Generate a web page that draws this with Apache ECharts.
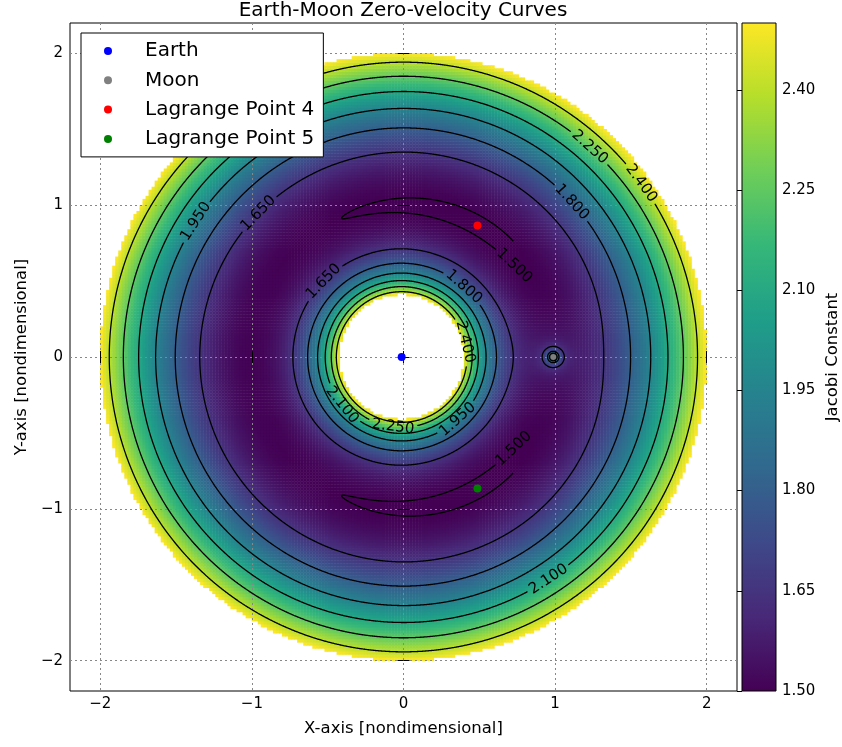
<!DOCTYPE html>
<html>
<head>
<meta charset="utf-8">
<script src="https://cdn.jsdelivr.net/npm/echarts@6/dist/echarts.min.js"></script>
<style>html,body{margin:0;padding:0;background:#fff}#c{width:842px;height:747px}</style>
</head>
<body>
<div id="c"></div>
<script>
// ---------------- data ----------------
const MU = 0.01215;                       // Earth-Moon mass parameter
const axisRange = [-2.2, 2.2];
const axisTicks = [-2, -1, 0, 1, 2];
const colorRange = [1.5, 2.5];
const colorbarTicks = [1.5, 1.65, 1.8, 1.95, 2.1, 2.25, 2.4];
const contourLevels = [1.5, 1.65, 1.8, 1.95, 2.1, 2.25, 2.4];
const earthPos = [[-0.01215, 0]];
const moonPos = [[0.98785, 0]];
const lagrange4Pos = [[0.48785, 0.86603]];
const lagrange5Pos = [[0.48785, -0.86603]];
const legendNames = ['Earth', 'Moon', 'Lagrange Point 4', 'Lagrange Point 5'];
// contour label spots: [level, x, y] (approximate, snapped onto the contour)
const contourLabelSpots = [
  [1.95, -1.362, 0.889], [1.65, -0.960, 0.949], [2.25, 1.231, 1.384],
  [2.4, 1.580, 1.153], [1.8, 1.112, 1.021], [1.5, 0.736, 0.606],
  [1.5, 0.703, -0.580], [2.1, 0.947, -1.449], [1.65, -0.537, 0.507],
  [1.8, 0.393, 0.455], [2.4, 0.406, 0.099], [2.1, -0.405, -0.316],
  [2.25, -0.068, -0.448], [1.95, 0.360, -0.415]
];
const viridis = ['#440154', '#482878', '#3e4989', '#31688e', '#26828e',
                 '#1f9e89', '#35b779', '#6ece58', '#b5de2b', '#fde725'];
const FONT = "'DejaVu Sans', sans-serif";

// Jacobi constant (half form) of the circular restricted three-body problem
function jacobi(x, y) {
  const r1 = Math.hypot(x + MU, y), r2 = Math.hypot(x - 1 + MU, y);
  return 0.5 * (x * x + y * y) + (1 - MU) / r1 + MU / r2;
}

// ---------------- heatmap field ----------------
const N = 220, span = axisRange[1] - axisRange[0], step = span / N;
const heatCats = [];
for (let i = 0; i < N; i++) heatCats.push((axisRange[0] + (i + 0.5) * step).toFixed(4));
const heatData = [];
for (let i = 0; i < N; i++) {
  const x = axisRange[0] + (i + 0.5) * step;
  for (let j = 0; j < N; j++) {
    const y = axisRange[0] + (j + 0.5) * step;
    const v = jacobi(x, y);
    if (v <= colorRange[1]) heatData.push([i, j, Math.max(v, colorRange[0])]);
  }
}

// ---------------- contours (marching squares) ----------------
const M = 881, h = span / (M - 1);
const F = new Float64Array(M * M);
for (let j = 0; j < M; j++) for (let i = 0; i < M; i++)
  F[j * M + i] = jacobi(axisRange[0] + i * h, axisRange[0] + j * h);

function snapSpot(L, x, y) {
  const e = 1e-5;
  for (let k = 0; k < 30; k++) {
    const v = jacobi(x, y);
    const gx = (jacobi(x + e, y) - jacobi(x - e, y)) / (2 * e);
    const gy = (jacobi(x, y + e) - jacobi(x, y - e)) / (2 * e);
    const g2 = gx * gx + gy * gy;
    let dx = (L - v) * gx / g2, dy = (L - v) * gy / g2;
    const d = Math.hypot(dx, dy);
    if (d > 0.03) { dx *= 0.03 / d; dy *= 0.03 / d; }
    x += dx; y += dy;
  }
  const gx = (jacobi(x + e, y) - jacobi(x - e, y)) / (2 * e);
  const gy = (jacobi(x, y + e) - jacobi(x, y - e)) / (2 * e);
  const g = Math.hypot(gx, gy);
  return { L, x, y, tx: -gy / g, ty: gx / g };
}
const spots = contourLabelSpots.map(s => snapSpot(s[0], s[1], s[2]));
const GAP = 0.165;

function contourSegments(L) {
  const out = [];
  const mySpots = spots.filter(s => Math.abs(s.L - L) < 1e-9);
  function push(p, q) {
    const mx = (p[0] + q[0]) / 2, my = (p[1] + q[1]) / 2;
    for (const s of mySpots) if (Math.hypot(mx - s.x, my - s.y) < GAP) return;
    out.push(p[0], p[1], q[0], q[1]);
  }
  for (let j = 0; j < M - 1; j++) {
    const y0 = axisRange[0] + j * h, y1 = y0 + h;
    for (let i = 0; i < M - 1; i++) {
      const v00 = F[j * M + i], v10 = F[j * M + i + 1], v01 = F[(j + 1) * M + i], v11 = F[(j + 1) * M + i + 1];
      const a = v00 >= L, b = v10 >= L, c = v11 >= L, d = v01 >= L;
      if (a === b && b === c && c === d) continue;
      const x0 = axisRange[0] + i * h, x1 = x0 + h;
      const E = {};
      if (a !== b) E.b = [x0 + (L - v00) / (v10 - v00) * h, y0];
      if (b !== c) E.r = [x1, y0 + (L - v10) / (v11 - v10) * h];
      if (d !== c) E.t = [x0 + (L - v01) / (v11 - v01) * h, y1];
      if (a !== d) E.l = [x0, y0 + (L - v00) / (v01 - v00) * h];
      const keys = Object.keys(E);
      if (keys.length === 2) push(E[keys[0]], E[keys[1]]);
      else if (keys.length === 4) {
        const cen = (v00 + v10 + v01 + v11) / 4 >= L;
        if (cen === a) { push(E.b, E.r); push(E.t, E.l); }
        else { push(E.b, E.l); push(E.r, E.t); }
      }
    }
  }
  return out;
}
const contourSegs = contourLevels.map(contourSegments);

// ---------------- chart ----------------
const chart = echarts.init(document.getElementById('c'), null, { renderer: 'canvas' });
const tickLabelStyle = { color: '#000', fontFamily: FONT, fontSize: 15 };
const minusFmt = v => String(v).replace('-', '\u2212');

const option = {
  animation: false,
  backgroundColor: '#fff',
  title: {
    text: 'Earth-Moon Zero-velocity Curves', left: 403, top: 0, textAlign: 'center',
    padding: [1, 0, 0, 0],
    textStyle: { fontFamily: FONT, fontSize: 20, fontWeight: 'normal', color: '#000' }
  },
  legend: {
    data: legendNames, orient: 'vertical', left: 81, top: 33,
    padding: [8, 9, 8, 23], itemWidth: 8, itemHeight: 8, itemGap: 9.3, icon: 'circle',
    backgroundColor: '#fff', borderColor: '#000', borderWidth: 1, borderRadius: 0,
    selectedMode: false, z: 10,
    textStyle: { fontFamily: FONT, fontSize: 20, color: '#000', lineHeight: 20, padding: [0, 0, 0, 28] }
  },
  grid: [
    { left: 70, top: 23, width: 667, height: 668, show: true, borderColor: '#000', borderWidth: 1, backgroundColor: 'transparent' },
    { left: 742, top: 23, width: 34, height: 668 }
  ],
  visualMap: {
    type: 'continuous', min: colorRange[0], max: colorRange[1], seriesIndex: 0, dimension: 2,
    show: false, inRange: { color: viridis }
  },
  xAxis: [
    { gridIndex: 0, type: 'value', min: axisRange[0], max: axisRange[1], position: 'bottom', z: 2,
      axisLine: { show: false },
      axisTick: { inside: true, length: 6, customValues: axisTicks, lineStyle: { color: '#000' } },
      axisLabel: { customValues: axisTicks, formatter: minusFmt, margin: 6, ...tickLabelStyle },
      splitLine: { show: true, lineStyle: { color: '#888', type: [2, 3], width: 1 } },
      name: 'X-axis [nondimensional]', nameLocation: 'middle', nameGap: 29,
      nameTextStyle: { fontFamily: FONT, fontSize: 16.5, color: '#000' } },
    { gridIndex: 0, type: 'value', min: axisRange[0], max: axisRange[1], position: 'top', z: 2,
      axisLine: { show: false },
      axisTick: { inside: true, length: 6, customValues: axisTicks, lineStyle: { color: '#000' } },
      axisLabel: { show: false }, splitLine: { show: false } },
    { gridIndex: 0, type: 'category', data: heatCats, show: false },
    { gridIndex: 1, type: 'value', min: 0, max: 1, show: false }
  ],
  yAxis: [
    { gridIndex: 0, type: 'value', min: axisRange[0], max: axisRange[1], position: 'left', z: 2,
      axisLine: { show: false },
      axisTick: { inside: true, length: 6, customValues: axisTicks, lineStyle: { color: '#000' } },
      axisLabel: { customValues: axisTicks, formatter: minusFmt, margin: 7, ...tickLabelStyle },
      splitLine: { show: true, lineStyle: { color: '#888', type: [2, 3], width: 1 } },
      name: 'Y-axis [nondimensional]', nameLocation: 'middle', nameGap: 40, nameRotate: 90,
      nameTextStyle: { fontFamily: FONT, fontSize: 16.5, color: '#000' } },
    { gridIndex: 0, type: 'value', min: axisRange[0], max: axisRange[1], position: 'right', z: 2,
      axisLine: { show: false },
      axisTick: { inside: true, length: 6, customValues: axisTicks, lineStyle: { color: '#000' } },
      axisLabel: { show: false }, splitLine: { show: false } },
    { gridIndex: 0, type: 'category', data: heatCats, show: false },
    { gridIndex: 1, type: 'value', min: colorRange[0], max: colorRange[1], position: 'right', z: 3,
      axisLine: { show: false },
      axisTick: { inside: true, length: 5, customValues: colorbarTicks, lineStyle: { color: '#000' } },
      axisLabel: { customValues: colorbarTicks, formatter: v => v.toFixed(2), margin: 6, ...tickLabelStyle },
      splitLine: { show: false },
      name: 'Jacobi Constant', nameLocation: 'middle', nameGap: 48, nameRotate: 90,
      nameTextStyle: { fontFamily: FONT, fontSize: 16.5, color: '#000' } }
  ],
  series: [
    { type: 'heatmap', xAxisIndex: 2, yAxisIndex: 2, data: heatData, z: 1,
      progressive: 0, silent: true, itemStyle: { borderWidth: 0 }, emphasis: { disabled: true } },
    { type: 'custom', name: 'contours', xAxisIndex: 0, yAxisIndex: 0, z: 3, silent: true,
      data: contourLevels.map(() => [0, 0]),
      renderItem: (params, api) => {
        const s = contourSegs[params.dataIndex];
        const parts = [];
        for (let k = 0; k < s.length; k += 4) {
          const p = api.coord([s[k], s[k + 1]]), q = api.coord([s[k + 2], s[k + 3]]);
          parts.push('M' + p[0].toFixed(2) + ' ' + p[1].toFixed(2) + 'L' + q[0].toFixed(2) + ' ' + q[1].toFixed(2));
        }
        return { type: 'path', shape: { pathData: parts.join('') },
                 style: { fill: 'none', stroke: '#000', lineWidth: 1.3, lineCap: 'round', lineJoin: 'round' } };
      } },
    { type: 'custom', name: 'contourLabels', xAxisIndex: 0, yAxisIndex: 0, z: 3, silent: true,
      data: spots.map(() => [0, 0]),
      renderItem: (params, api) => {
        const s = spots[params.dataIndex];
        const p0 = api.coord([s.x, s.y]), p1 = api.coord([s.x + s.tx * 0.01, s.y + s.ty * 0.01]);
        let ang = Math.atan2(-(p1[1] - p0[1]), p1[0] - p0[0]);
        if (ang > Math.PI / 2) ang -= Math.PI;
        if (ang < -Math.PI / 2) ang += Math.PI;
        return { type: 'text', x: p0[0], y: p0[1], rotation: ang,
                 style: { text: s.L.toFixed(3), fontFamily: FONT, fontSize: 15, fill: '#000',
                          align: 'center', verticalAlign: 'middle' } };
      } },
    { type: 'scatter', name: 'Earth', xAxisIndex: 0, yAxisIndex: 0, data: earthPos, symbolSize: 8, z: 4,
      itemStyle: { color: '#0000ff', opacity: 1 } },
    { type: 'scatter', name: 'Moon', xAxisIndex: 0, yAxisIndex: 0, data: moonPos, symbolSize: 6, z: 4,
      itemStyle: { color: '#808080', opacity: 1 } },
    { type: 'scatter', name: 'Lagrange Point 4', xAxisIndex: 0, yAxisIndex: 0, data: lagrange4Pos, symbolSize: 8, z: 4,
      itemStyle: { color: '#ff0000', opacity: 1 } },
    { type: 'scatter', name: 'Lagrange Point 5', xAxisIndex: 0, yAxisIndex: 0, data: lagrange5Pos, symbolSize: 8, z: 4,
      itemStyle: { color: '#008000', opacity: 1 } },
    { type: 'custom', name: 'colorbar', xAxisIndex: 3, yAxisIndex: 3, z: 2, silent: true,
      data: [[0, colorRange[0]]],
      renderItem: (params, api) => {
        const tl = api.coord([0, colorRange[1]]), br = api.coord([1, colorRange[0]]);
        const stops = viridis.map((c, i) => ({ offset: i / (viridis.length - 1), color: c }));
        return { type: 'rect', shape: { x: tl[0], y: tl[1], width: br[0] - tl[0], height: br[1] - tl[1] },
                 style: { fill: new echarts.graphic.LinearGradient(0, 1, 0, 0, stops), stroke: '#000', lineWidth: 1 } };
      } }
  ]
};
chart.setOption(option);
</script>
</body>
</html>
